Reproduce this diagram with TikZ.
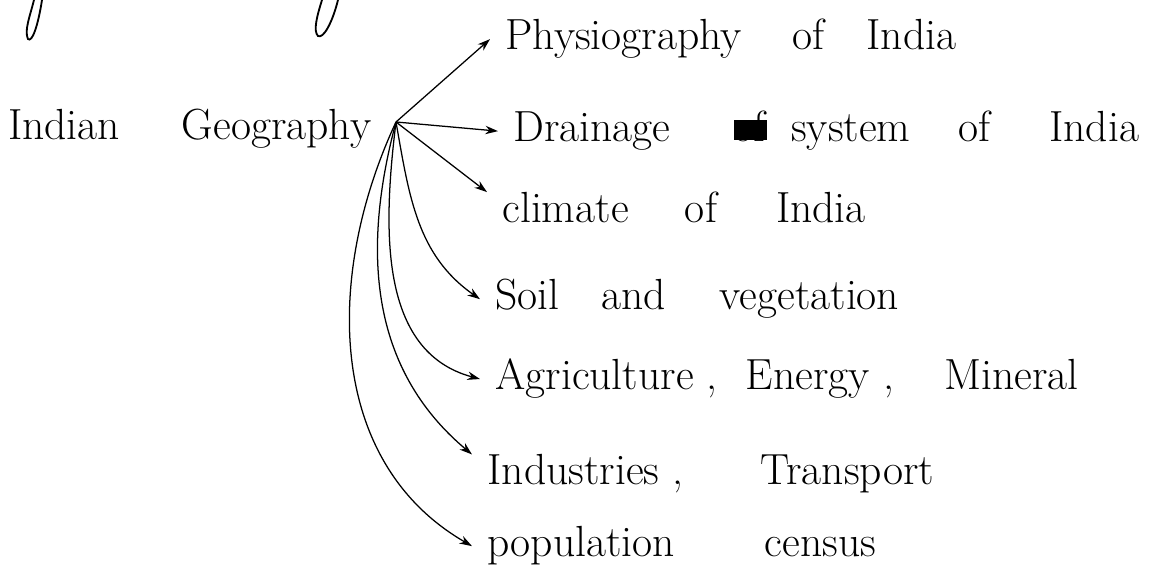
\documentclass[tikz,border=0pt]{standalone}
\usepackage{fontspec}
\usepackage{tikz}
\usetikzlibrary{arrows.meta}

\begin{document}
\begin{tikzpicture}[x=0.025cm, y=0.025cm,
		topic/.style={anchor=base west, inner sep=0pt, outer xsep=11pt, font=\fontsize{31}{36}\selectfont},
		link/.style={-{Stealth[length=9pt,width=6pt]}, line width=0.9pt},
		pen/.style={line width=1.3pt, line cap=round}]
				
				\useasboundingbox (0,0) rectangle (1149,576);
				
				% cut-off strokes of the line above
				\draw[pen] (34,576) .. controls (30,560) and (24,545) .. (28,537) .. controls (32,533) and (38,550) .. (42,576);
				\draw[pen] (322,576) .. controls (317,560) and (313,545) .. (318,540) .. controls (323,537) and (332,552) .. (338,576);
				
				\coordinate (hub) at (396,454);
				
				\node[topic, outer xsep=0pt] (geo) at (8,436) {Indian\hspace{44pt}Geography};
				
				\node[topic] (phys) at (490,526) {Physiography\hspace{36pt}of\hspace{30pt}India};
				\node[topic] (drain) at (498,434) {Drainage\hspace{45pt}\rlap{\rule[0.05em]{0.75em}{0.45em}}of\hspace{18pt}system\hspace{34pt}of\hspace{42pt}India};
				\node[topic] (clim) at (487,353) {climate\hspace{40pt}of\hspace{42pt}India};
				\node[topic] (soil) at (480,266) {Soil\hspace{30pt}and\hspace{38pt}vegetation};
				\node[topic] (agri) at (480,186) {Agriculture ,\hspace{20pt}Energy ,\hspace{36pt}Mineral};
				\node[topic] (ind) at (472,91) {Industries ,\hspace{55pt}Transport};
				\node[topic] (pop) at (472,19) {population\hspace{64pt}census};
				
				\draw[link] (hub) -- (phys.west);
				\draw[link] (hub) -- (drain.west);
				\draw[link] (hub) -- (clim.north west);
				\draw[link] (hub) to[out=-80, in=145] (soil.west);
				\draw[link] (hub) to[out=-97, in=165] (agri.west);
				\draw[link] (hub) to[out=-105, in=140] (ind.north west);
				\draw[link] (hub) to[out=-115, in=150] (pop.west);
				
\end{tikzpicture}
\end{document}
